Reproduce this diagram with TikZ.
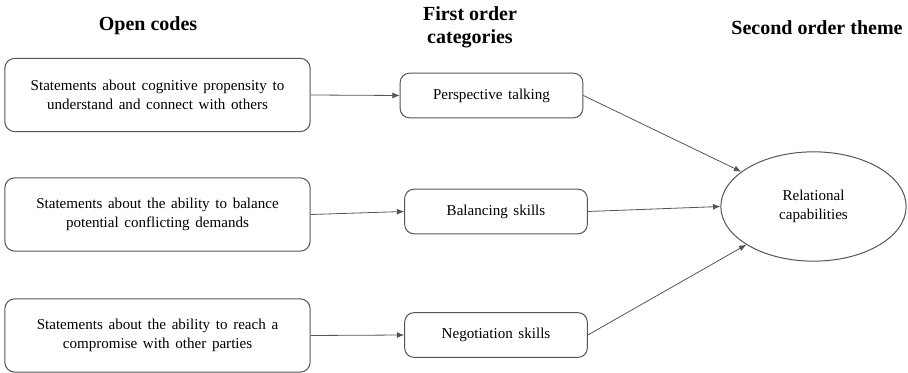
\documentclass[tikz,border=0pt]{standalone}
\usepackage{fontspec}
\setmainfont{Liberation Serif}[WordSpace={1.5,1.2,1.2}]
\newfontfamily\headfont{Liberation Serif}
\usetikzlibrary{shapes.geometric,arrows.meta}
\definecolor{linegray}{HTML}{555555}
\tikzset{
  txt/.style={font=\fontsize{11.3}{14}\selectfont},
  codebox/.style={draw=linegray, line width=0.75pt, rounded corners=7.5pt, minimum width=229pt, minimum height=55pt, align=center, inner sep=0pt, txt},
  catbox/.style={draw=linegray, line width=0.75pt, rounded corners=7pt, minimum width=137pt, minimum height=33.5pt, align=center, inner sep=0pt, txt},
  themeell/.style={draw=linegray, line width=0.75pt, ellipse, minimum width=139pt, minimum height=82pt, inner sep=0pt, align=center, txt},
  heading/.style={font=\headfont\fontsize{15}{17.5}\selectfont\bfseries, align=center, inner sep=0pt},
  conn/.style={draw=linegray, line width=0.6pt, -{Latex[length=5.5pt,width=4.5pt]}}
}
\begin{document}
\begin{tikzpicture}[x=0.75pt,y=-0.75pt]
\useasboundingbox (0,0) rectangle (908,373);
\node[heading] (h1) at (148,26) {Open codes};
\node[heading] (h2) at (470,27) {First order\\categories};
\node[heading] (h3) at (817,28) {Second order theme};
\node[codebox] (a1) at (157.5,95) {Statements about cognitive propensity to\\understand and connect with others};
\node[codebox] (a2) at (157.5,214.5) {Statements about the ability to balance\\potential conflicting demands};
\node[codebox] (a3) at (157.5,335.5) {Statements about the ability to reach a\\compromise with other parties};
\node[catbox] (b1) at (491.5,95.5) {Perspective talking};
\node[catbox] (b2) at (496,211.5) {Balancing skills};
\node[catbox] (b3) at (496,335) {Negotiation skills};
\node[themeell] (e) at (813.5,206.5) {Relational\\capabilities};
\draw[conn] (a1.east) -- (b1.west);
\draw[conn] (a2.east) -- (b2.west);
\draw[conn] (a3.east) -- (b3.west);
\draw[conn] (b1.east) -- (e);
\draw[conn] (b2.east) -- (e.west);
\draw[conn] (b3.east) -- (e);
\end{tikzpicture}
\end{document}
